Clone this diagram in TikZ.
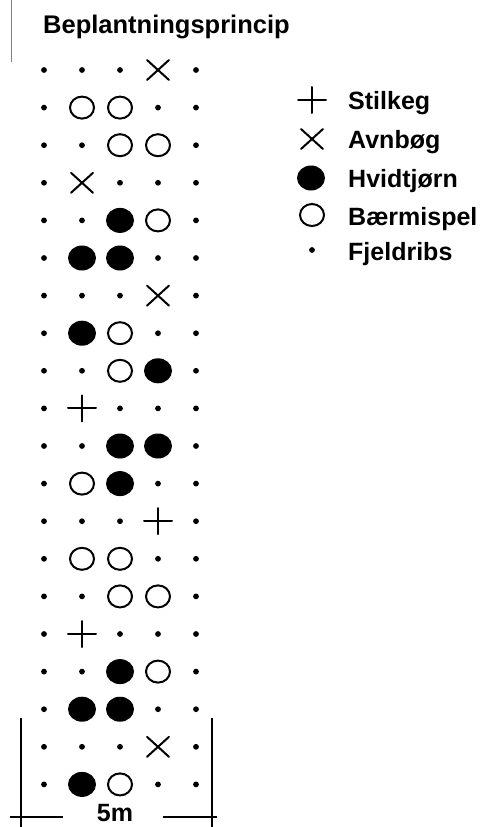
\documentclass[tikz,border=0pt]{standalone}
\usepackage{fontspec}
\setmainfont{Liberation Sans}
\begin{document}
\begin{tikzpicture}[x=1pt,y=-1pt,
  lbl/.style={anchor=base west,inner sep=0pt,font=\fontsize{25}{30}\bfseries},
  ttl/.style={anchor=base west,inner sep=0pt,font=\fontsize{25.5}{30}\bfseries},
  sym/.style={line width=2pt,line cap=round},
  d/.pic={\fill (0,0) circle (2.9);},
  o/.pic={\draw[sym] (0,0) ellipse (12 and 11);},
  f/.pic={\fill (0,0) ellipse (14 and 12.5);},
  x/.pic={\draw[sym] (-11,-10) -- (11,10) (-11,10) -- (11,-10);},
  p/.pic={\draw[sym] (-14,0) -- (14,0) (0,-13) -- (0,13);}
]
\useasboundingbox (0,0) rectangle (485,827);
\draw[gray,line width=1pt] (11,0) -- (11,62);
\node[ttl] (title) at (43,33) {Beplantningsprincip};
\foreach \row [count=\i] in {
  {d,d,d,x,d},{d,o,o,d,d},{d,d,o,o,d},{d,x,d,d,d},{d,d,f,o,d},
  {d,f,f,d,d},{d,d,d,x,d},{d,f,o,d,d},{d,d,o,f,d},{d,p,d,d,d},
  {d,d,f,f,d},{d,o,f,d,d},{d,d,d,p,d},{d,o,o,d,d},{d,d,o,o,d},
  {d,p,d,d,d},{d,d,f,o,d},{d,f,f,d,d},{d,d,d,x,d},{d,f,o,d,d}}{
  \foreach \s [count=\j] in \row {
    \pic at ({44+38*(\j-1)},{70+37.6*(\i-1)}) {\s};
  }
}
% legend
\pic at (312,100) {p};
\pic at (312,139) {x};
\pic at (311,178) {f};
\pic at (312,215) {o};
\pic at (312,250) {d};
\node[lbl] (l1) at (348,109) {Stilkeg};
\node[lbl] (l2) at (348,148) {Avnbøg};
\node[lbl] (l3) at (348,187) {Hvidtjørn};
\node[lbl] (l4) at (348,225) {Bærmispel};
\node[lbl] (l5) at (348,260) {Fjeldribs};
% dimension
\coordinate (a1) at (21,718);
\coordinate (a2) at (21,830);
\coordinate (b1) at (212,718);
\coordinate (b2) at (212,830);
\coordinate (h1) at (10,817);
\coordinate (h2) at (63,817);
\coordinate (h3) at (163,817);
\coordinate (h4) at (217,817);
\draw[line width=1.6pt] (a1) -- (a2) (b1) -- (b2) (h1) -- (h2) (h3) -- (h4);
\node[lbl,anchor=base] (dim) at (115,821) {5m};
\end{tikzpicture}
\end{document}
